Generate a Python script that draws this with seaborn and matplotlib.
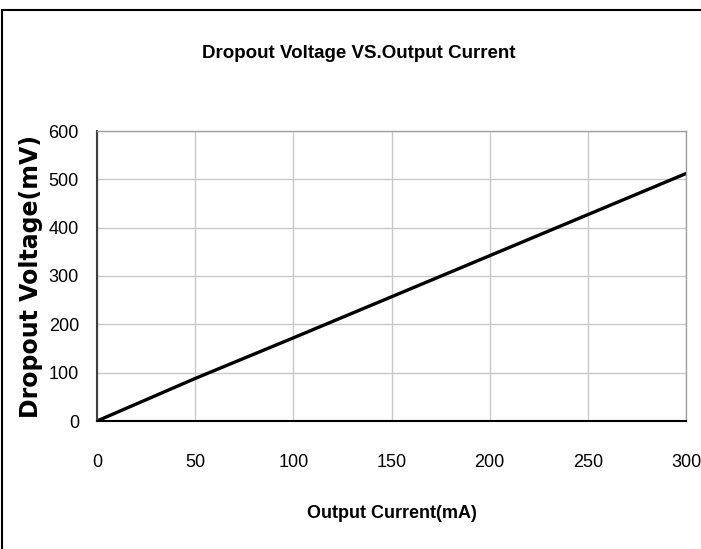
import matplotlib
matplotlib.use("Agg")
import matplotlib.pyplot as plt
import seaborn as sns
import pandas as pd
from matplotlib.patches import Rectangle

current_ma = [0, 50, 100, 150, 200, 250, 300]
dropout_mv = [0, 88, 172, 257, 342, 427, 512]
x_ticks = [0, 50, 100, 150, 200, 250, 300]
y_ticks = [0, 100, 200, 300, 400, 500, 600]

sns.set_theme(style="white")
plt.rcParams["font.family"] = ["Liberation Sans", "DejaVu Sans"]
plt.rcParams["text.color"] = "black"
plt.rcParams["axes.labelcolor"] = "black"

df = pd.DataFrame({"current": current_ma, "dropout": dropout_mv})

fig = plt.figure(figsize=(7.01, 5.49), dpi=100)
ax = fig.add_axes([97/701, 128/549, (686-97)/701, (421-131)/549])

sns.lineplot(data=df, x="current", y="dropout", ax=ax, color="black", linewidth=2.4)

ax.set_xlim(0, 300)
ax.set_ylim(0, 600)
ax.set_xticks(x_ticks)
ax.set_yticks(y_ticks)
ax.grid(True, color="#c8c8c8", linewidth=1)
ax.set_axisbelow(True)
for s in ["top", "right"]:
    ax.spines[s].set_color("#a0a0a0")
    ax.spines[s].set_linewidth(1)
ax.spines["left"].set_color("#404040")
ax.spines["left"].set_linewidth(1.5)
ax.spines["bottom"].set_color("black")
ax.spines["bottom"].set_linewidth(1.5)

ax.tick_params(axis="x", direction="in", length=4, width=1, colors="black", labelsize=13, pad=24)
ax.tick_params(axis="y", direction="out", length=3, width=1, colors="black", labelsize=13, pad=10)

ax.set_xlabel("Output Current(mA)", fontsize=13, fontweight="bold", labelpad=24)
ax.set_ylabel("Dropout Voltage(mV)", fontsize=17, fontweight="bold",
              family=["DejaVu Sans"], labelpad=4)
fig.text((205+512)/2/701, 1-53/549, "Dropout Voltage VS.Output Current",
         ha="center", va="center", fontsize=13.5, fontweight="bold")

fig.patches.append(Rectangle((2/701, -0.1), 1.2, 1 - 10/549 + 0.1, transform=fig.transFigure,
                             fill=False, edgecolor="black", linewidth=1.5))

fig.savefig("out.png", dpi=100)
